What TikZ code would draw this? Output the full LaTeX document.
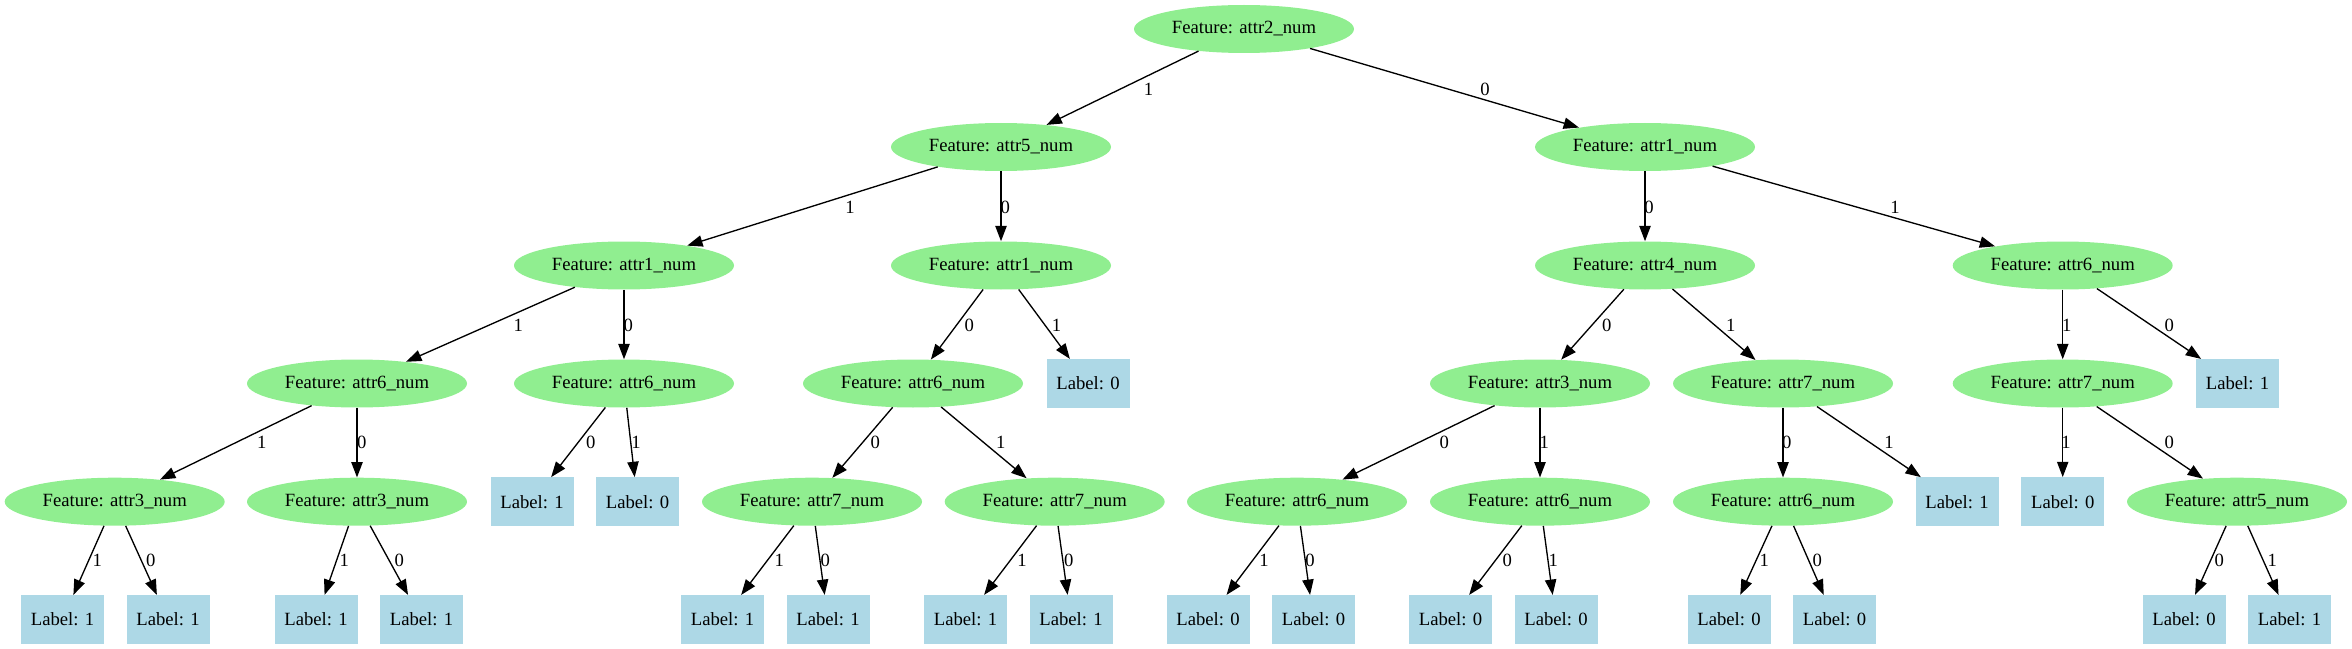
\documentclass[tikz,border=0pt]{standalone}
\usepackage{fontspec}
\setmainfont{Liberation Serif}
\usetikzlibrary{arrows.meta,shapes.geometric}
\definecolor{featgreen}{HTML}{90EE90}
\definecolor{leafblue}{HTML}{ADD8E6}
\begin{document}
\begin{tikzpicture}[x=0.75pt,y=-0.75pt,
  font=\fontsize{14pt}{16pt}\selectfont,
  feat/.style={ellipse,fill=featgreen,draw=none,minimum width=165pt,minimum height=36pt,inner sep=0pt},
  leaf/.style={rectangle,fill=leafblue,draw=none,minimum width=62.25pt,minimum height=36.5pt,inner sep=0pt},
  edge/.style={draw=black,line width=1pt,-{Triangle[length=11.5pt,width=8.5pt]}},
  elab/.style={inner sep=0pt}]
\useasboundingbox (0,0) rectangle (2352,649);
% level 0
\node[feat] (root) at (1244,29) {Feature: attr2\_num};
% level 1
\node[feat] (n5) at (1001,147) {Feature: attr5\_num};
\node[feat] (n1) at (1645,147) {Feature: attr1\_num};
% level 2
\node[feat] (a) at (624,265.5) {Feature: attr1\_num};
\node[feat] (b) at (1001,265.5) {Feature: attr1\_num};
\node[feat] (c) at (1645,265.5) {Feature: attr4\_num};
\node[feat] (d) at (2062.7,265.5) {Feature: attr6\_num};
% level 3
\node[feat] (a1) at (357,383.5) {Feature: attr6\_num};
\node[feat] (a0) at (624,383.5) {Feature: attr6\_num};
\node[feat] (b0) at (913,383.5) {Feature: attr6\_num};
\node[leaf] (b1) at (1088,383.5) {Label: 0};
\node[feat] (c0) at (1540,383.5) {Feature: attr3\_num};
\node[feat] (c1) at (1783,383.5) {Feature: attr7\_num};
\node[feat] (d1) at (2062.7,383.5) {Feature: attr7\_num};
\node[leaf] (d0) at (2237.5,383.5) {Label: 1};
% level 4
\node[feat] (a11) at (114.7,501.7) {Feature: attr3\_num};
\node[feat] (a10) at (357,501.7) {Feature: attr3\_num};
\node[leaf] (a00) at (532,501.7) {Label: 1};
\node[leaf] (a01) at (637.5,501.7) {Label: 0};
\node[feat] (b00) at (812,501.7) {Feature: attr7\_num};
\node[feat] (b01) at (1054.7,501.7) {Feature: attr7\_num};
\node[feat] (c00) at (1297,501.7) {Feature: attr6\_num};
\node[feat] (c01) at (1540,501.7) {Feature: attr6\_num};
\node[feat] (c10) at (1783,501.7) {Feature: attr6\_num};
\node[leaf] (c11) at (1957,501.7) {Label: 1};
\node[leaf] (d11) at (2062.7,501.7) {Label: 0};
\node[feat] (d10) at (2237,501.7) {Feature: attr5\_num};
% level 5
\node[leaf] (a111) at (62.5,619.5) {Label: 1};
\node[leaf] (a110) at (168,619.5) {Label: 1};
\node[leaf] (a101) at (316,619.5) {Label: 1};
\node[leaf] (a100) at (421.5,619.5) {Label: 1};
\node[leaf] (b001) at (722.5,619.5) {Label: 1};
\node[leaf] (b000) at (828,619.5) {Label: 1};
\node[leaf] (b011) at (965.5,619.5) {Label: 1};
\node[leaf] (b010) at (1071,619.5) {Label: 1};
\node[leaf] (c001) at (1208,619.5) {Label: 0};
\node[leaf] (c000) at (1313.5,619.5) {Label: 0};
\node[leaf] (c010) at (1450.5,619.5) {Label: 0};
\node[leaf] (c011) at (1556,619.5) {Label: 0};
\node[leaf] (c101) at (1729,619.5) {Label: 0};
\node[leaf] (c100) at (1834.5,619.5) {Label: 0};
\node[leaf] (d100) at (2184,619.5) {Label: 0};
\node[leaf] (d101) at (2289.5,619.5) {Label: 1};
% edges
\draw[edge] (root) -- (n5);  \node[elab] (e1) at (1148.5,89.3) {1};
\draw[edge] (root) -- (n1);  \node[elab] (e2) at (1485,89.3) {0};
\draw[edge] (n5) -- (a);     \node[elab] (e3) at (850,207.3) {1};
\draw[edge] (n5) -- (b);     \node[elab] (e4) at (1005.3,207.3) {0};
\draw[edge] (n1) -- (c);     \node[elab] (e5) at (1649,207.3) {0};
\draw[edge] (n1) -- (d);     \node[elab] (e6) at (1895,207.3) {1};
\draw[edge] (a) -- (a1);     \node[elab] (e7) at (518.3,325) {1};
\draw[edge] (a) -- (a0);     \node[elab] (e8) at (628.3,325) {0};
\draw[edge] (b) -- (b0);     \node[elab] (e9) at (969.3,325) {0};
\draw[edge] (b) -- (b1);     \node[elab] (e10) at (1056.5,325) {1};
\draw[edge] (c) -- (c0);     \node[elab] (e11) at (1606.7,325) {0};
\draw[edge] (c) -- (c1);     \node[elab] (e12) at (1730.7,325) {1};
\draw[edge] (d) -- (d1);     \node[elab] (e13) at (2066.7,325) {1};
\draw[edge] (d) -- (d0);     \node[elab] (e14) at (2169.3,325) {0};
\draw[edge] (a1) -- (a11);   \node[elab] (e15) at (261.7,442.7) {1};
\draw[edge] (a1) -- (a10);   \node[elab] (e16) at (361.7,442.7) {0};
\draw[edge] (a0) -- (a00);   \node[elab] (e17) at (590.7,442.7) {0};
\draw[edge] (a0) -- (a01);   \node[elab] (e18) at (636,442.7) {1};
\draw[edge] (b0) -- (b00);   \node[elab] (e19) at (875.3,442.7) {0};
\draw[edge] (b0) -- (b01);   \node[elab] (e20) at (1000.7,442.7) {1};
\draw[edge] (c0) -- (c00);   \node[elab] (e21) at (1444.3,442.7) {0};
\draw[edge] (c0) -- (c01);   \node[elab] (e22) at (1544.3,442.7) {1};
\draw[edge] (c1) -- (c10);   \node[elab] (e23) at (1786.7,442.7) {0};
\draw[edge] (c1) -- (c11);   \node[elab] (e24) at (1889,442.7) {1};
\draw[edge] (d1) -- (d11);   \node[elab] (e25) at (2066,442.7) {1};
\draw[edge] (d1) -- (d10);   \node[elab] (e26) at (2169.3,442.7) {0};
\draw[edge] (a11) -- (a111); \node[elab] (e27) at (97.3,560.7) {1};
\draw[edge] (a11) -- (a110); \node[elab] (e28) at (150.7,560.7) {0};
\draw[edge] (a10) -- (a101); \node[elab] (e29) at (344.3,560.7) {1};
\draw[edge] (a10) -- (a100); \node[elab] (e30) at (399.3,560.7) {0};
\draw[edge] (b00) -- (b001); \node[elab] (e31) at (779.3,560.7) {1};
\draw[edge] (b00) -- (b000); \node[elab] (e32) at (825.3,560.7) {0};
\draw[edge] (b01) -- (b011); \node[elab] (e33) at (1022,560.7) {1};
\draw[edge] (b01) -- (b010); \node[elab] (e34) at (1068.7,560.7) {0};
\draw[edge] (c00) -- (c001); \node[elab] (e35) at (1264,560.7) {1};
\draw[edge] (c00) -- (c000); \node[elab] (e36) at (1310,560.7) {0};
\draw[edge] (c01) -- (c010); \node[elab] (e37) at (1507.3,560.7) {0};
\draw[edge] (c01) -- (c011); \node[elab] (e38) at (1553.3,560.7) {1};
\draw[edge] (c10) -- (c101); \node[elab] (e39) at (1764.3,560.7) {1};
\draw[edge] (c10) -- (c100); \node[elab] (e40) at (1817.3,560.7) {0};
\draw[edge] (d10) -- (d100); \node[elab] (e41) at (2219.3,560.7) {0};
\draw[edge] (d10) -- (d101); \node[elab] (e42) at (2272.3,560.7) {1};
\end{tikzpicture}
\end{document}
